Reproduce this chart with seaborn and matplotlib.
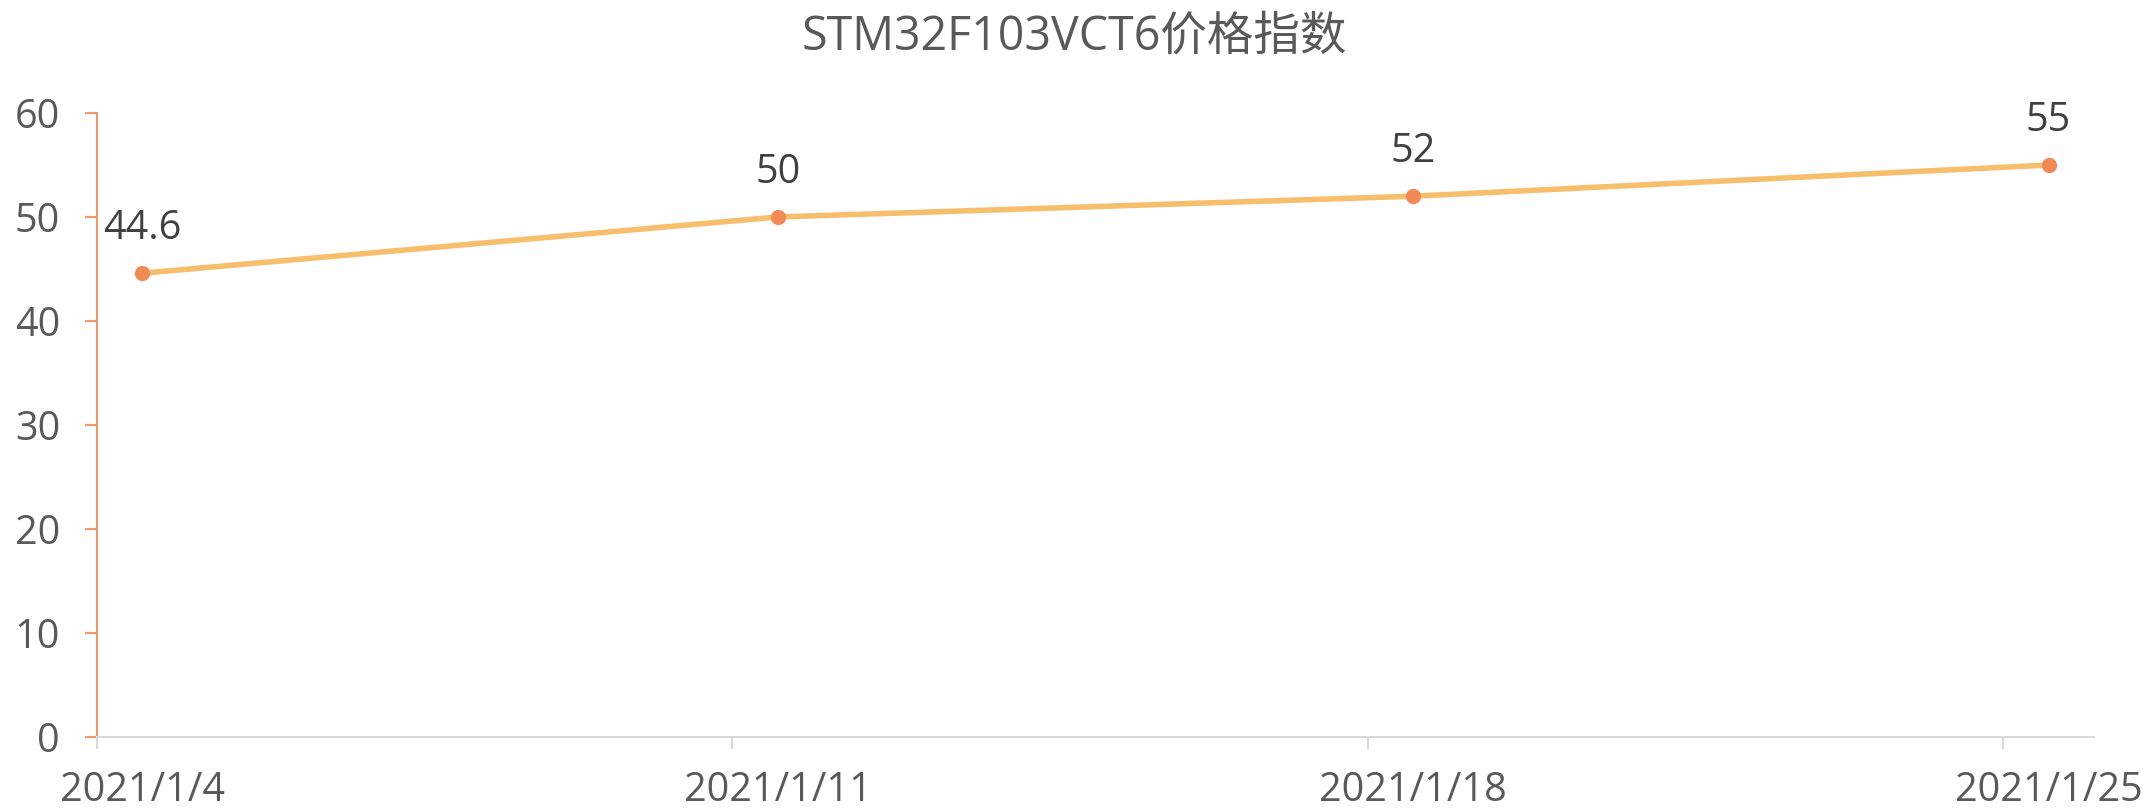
import matplotlib
matplotlib.use("Agg")
import matplotlib.pyplot as plt
import seaborn as sns
import pandas as pd
import numpy as np
from matplotlib.ticker import FixedLocator, NullFormatter, FixedFormatter

# ---- data ----
dates = ["2021/1/4", "2021/1/11", "2021/1/18", "2021/1/25"]
day_index = [0, 7, 14, 21]          # days since 2021/1/4
values = [44.6, 50, 52, 55]
y_ticks = [0, 10, 20, 30, 40, 50, 60]
title = "STM32F103VCT6价格指数"

sns.set_theme(style="white")
plt.rcParams['font.family'] = ['Open Sans', 'Noto Sans CJK SC', 'DejaVu Sans']

line_color = "#F7BE6C"
marker_color = "#F28A55"
axis_orange = "#F4956A"
grid_gray = "#D9D9D9"
tick_text = "#595959"
label_text = "#404040"

df = pd.DataFrame({"day": np.array(day_index) + 0.5, "value": values, "date": dates})

fig = plt.figure(figsize=(21.48, 8.09), dpi=100)
ax = fig.add_axes([97/2148, 1-737/809, (2094-97)/2148, (737-113)/809])

sns.lineplot(data=df, x="day", y="value", ax=ax, color=line_color, linewidth=4,
             marker="o", markersize=11, markerfacecolor=marker_color,
             markeredgecolor=marker_color, markeredgewidth=0, zorder=3)

ax.set_xlim(0, 22)
ax.set_ylim(0, 60)
ax.set_xlabel("")
ax.set_ylabel("")

# x: ticks at category starts, labels at points
ax.xaxis.set_major_locator(FixedLocator(day_index))
ax.xaxis.set_major_formatter(NullFormatter())
ax.xaxis.set_minor_locator(FixedLocator(list(df["day"])))
ax.xaxis.set_minor_formatter(FixedFormatter(dates))
ax.tick_params(axis="x", which="major", length=8.6, width=1.5, color=grid_gray, direction="out", bottom=True)
ax.tick_params(axis="x", which="minor", length=0, pad=24, labelsize=28.5, labelcolor=tick_text, bottom=True)

ax.set_yticks(y_ticks)
ax.tick_params(axis="y", which="major", length=8.6, width=1.5, color=axis_orange, direction="out",
               left=True, pad=18, labelsize=28.5, labelcolor=tick_text)

for s in ["top", "right"]:
    ax.spines[s].set_visible(False)
ax.spines["left"].set_color(axis_orange)
ax.spines["left"].set_linewidth(1.5)
ax.spines["bottom"].set_color(grid_gray)
ax.spines["bottom"].set_linewidth(1.5)
ax.grid(False)

for x, y in zip(df["day"], df["value"]):
    ax.annotate(f"{y:g}", (x, y), xytext=(0, 32), textcoords="offset points",
                ha="center", va="center", fontsize=28.5, color=label_text, clip_on=False)

fig.text(0.5, 1-37/809, title, ha="center", va="center", fontsize=33.5, color=tick_text)

fig.savefig("out.png", dpi=100, facecolor="white")
